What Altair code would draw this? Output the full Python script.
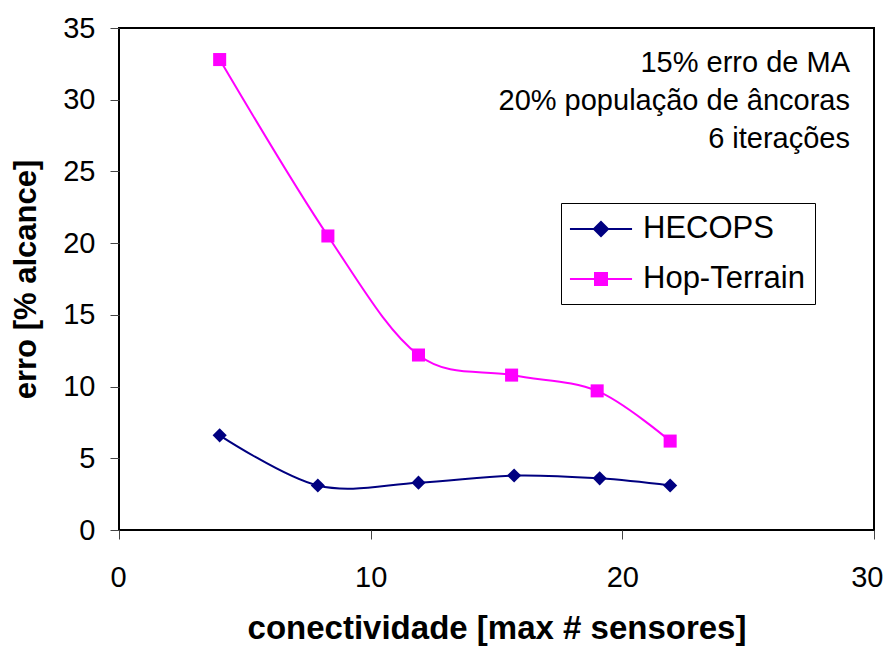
import altair as alt
import pandas as pd

series_names = ["HECOPS", "Hop-Terrain"]
series_colors = ["#000080", "#FF00FF"]
series_shapes = ["diamond", "square"]
series_sizes = [200, 170]

hecops_x = [4.0, 7.9, 11.9, 15.7, 19.1, 21.9]
hecops_y = [6.6, 3.1, 3.3, 3.8, 3.6, 3.1]
hop_x = [4.0, 8.3, 11.9, 15.6, 19.0, 21.9]
hop_y = [32.8, 20.5, 12.2, 10.8, 9.7, 6.2]

x_ticks = [0, 10, 20, 30]
y_ticks = [0, 5, 10, 15, 20, 25, 30, 35]

note_lines = ["15% erro de MA", "20% população de âncoras", "6 iterações"]

# legend symbols: line with marker in the middle
legend_paths = [
    "M-2.07,0H2.07M-0.47,0L0,-0.47L0.47,0L0,0.47Z",
    "M-2.07,0H2.07M-0.4,-0.4H0.4V0.4H-0.4Z",
]

df = pd.DataFrame(
    {
        "x": hecops_x + hop_x,
        "y": hecops_y + hop_y,
        "series": [series_names[0]] * len(hecops_x) + [series_names[1]] * len(hop_x),
    }
)

FONT = "Liberation Sans"

x_enc = alt.X(
    "x:Q",
    scale=alt.Scale(domain=[0, 30], nice=False, zero=False),
    axis=alt.Axis(values=x_ticks, title="conectividade [max # sensores]",
                  labelPadding=24, titlePadding=20, titleFontSize=33,
                  labelFlush=True, labelFlushOffset=9),
)
y_enc = alt.Y(
    "y:Q",
    scale=alt.Scale(domain=[0, 35], nice=False),
    axis=alt.Axis(values=y_ticks, title="erro [% alcance]",
                  labelPadding=15, titlePadding=20, labelFlush=False),
)

base = alt.Chart(df)

layers = []
for name, col in zip(series_names, series_colors):
    layers.append(
        base.transform_filter(alt.datum.series == name)
        .mark_line(interpolate="cardinal", strokeWidth=2, color=col)
        .encode(x=x_enc, y=y_enc)
    )
for name, col, shp, sz in zip(series_names, series_colors, series_shapes, series_sizes):
    layers.append(
        base.transform_filter(alt.datum.series == name)
        .mark_point(shape=shp, filled=True, size=sz, opacity=1, color=col)
        .encode(x=x_enc, y=y_enc)
    )

def make_legend():
    return alt.Legend(
        orient="none",
        legendX=442,
        legendY=175,
        strokeColor="black",
        fillColor="white",
        padding=10,
        symbolSize=900,
        symbolStrokeWidth=2,
        symbolOpacity=1,
        symbolOffset=14,
        labelOffset=26,
        rowPadding=19,
        labelFont=FONT,
        labelFontSize=31,
        labelColor="black",
        labelLimit=400,
    )

leg = base.mark_point(
    filled=True, opacity=0, size=900, strokeWidth=2
).encode(
    x=x_enc,
    y=y_enc,
    fill=alt.Fill("series:N", title=None, legend=make_legend(),
                  scale=alt.Scale(domain=series_names, range=series_colors)),
    stroke=alt.Stroke("series:N", title=None, legend=make_legend(),
                      scale=alt.Scale(domain=series_names, range=series_colors)),
    shape=alt.Shape("series:N", title=None, legend=make_legend(),
                    scale=alt.Scale(domain=series_names, range=legend_paths)),
)
layers.append(leg)

note = alt.Chart(pd.DataFrame({"k": [0]})).mark_text(
    align="right", baseline="alphabetic", fontSize=29, lineHeight=38,
    font=FONT, color="black"
).encode(x=alt.value(731), y=alt.value(44), text=alt.value(note_lines))
layers.append(note)

chart = alt.layer(*layers).properties(
    width=755,
    height=502,
    padding={"left": 111, "top": 20, "right": 10, "bottom": 116},
    autosize=alt.AutoSizeParams(type="none"),
    background="white",
).configure_view(
    stroke="black", strokeWidth=2
).configure_axis(
    domain=False,
    grid=False,
    tickColor="#444444",
    tickSize=9,
    tickWidth=1,
    labelFont=FONT,
    labelFontSize=29,
    labelColor="black",
    titleFont=FONT,
    titleFontSize=31,
    titleFontWeight="bold",
    titleColor="black",
)

chart.save("out.html", embed_options={"renderer": "svg", "actions": False})
